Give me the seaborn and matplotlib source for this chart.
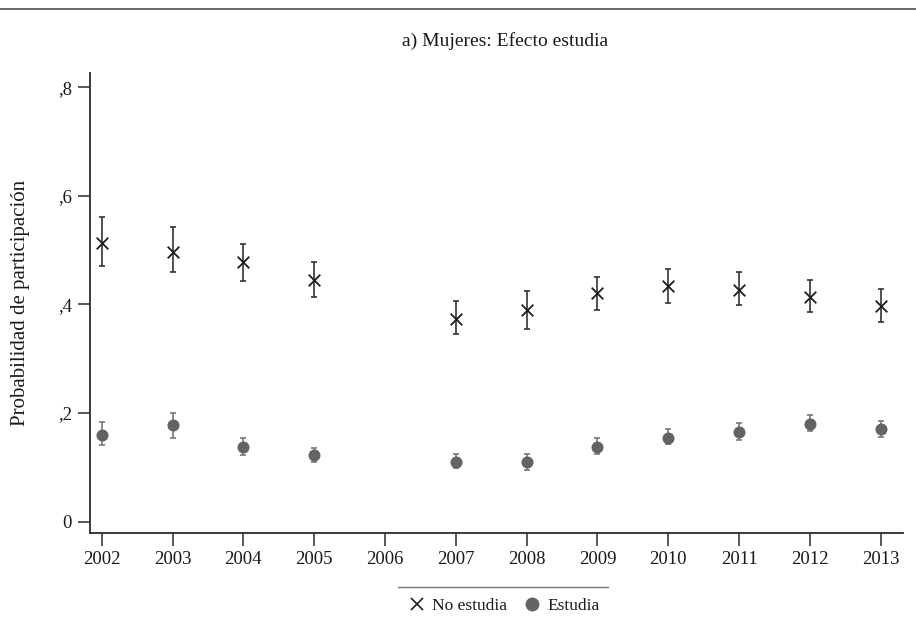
import numpy as np
import pandas as pd
import matplotlib
matplotlib.use("Agg")
import matplotlib.pyplot as plt
from matplotlib.lines import Line2D
import seaborn as sns

# Predicted participation probability by year, with 95% confidence bounds
years = [2002, 2003, 2004, 2005, 2007, 2008, 2009, 2010, 2011, 2012, 2013]

no_estudia = [0.514, 0.496, 0.478, 0.445, 0.373, 0.389, 0.421, 0.434, 0.427, 0.413, 0.398]
no_estudia_lo = [0.471, 0.459, 0.443, 0.414, 0.345, 0.355, 0.389, 0.402, 0.399, 0.387, 0.368]
no_estudia_hi = [0.561, 0.542, 0.512, 0.478, 0.407, 0.424, 0.451, 0.465, 0.459, 0.446, 0.429]

estudia = [0.160, 0.178, 0.138, 0.122, 0.110, 0.110, 0.138, 0.155, 0.165, 0.180, 0.170]
estudia_lo = [0.141, 0.155, 0.123, 0.109, 0.098, 0.095, 0.124, 0.143, 0.150, 0.167, 0.156]
estudia_hi = [0.183, 0.201, 0.154, 0.136, 0.125, 0.125, 0.155, 0.170, 0.181, 0.196, 0.186]

tick_years = list(range(2002, 2014))
y_ticks = [0, 0.2, 0.4, 0.6, 0.8]
y_ticklabels = ["0", ",2", ",4", ",6", ",8"]

title = "a) Mujeres: Efecto estudia"
ylabel = "Probabilidad de participación"
series_names = ["No estudia", "Estudia"]

sns.set_theme(style="ticks")
plt.rcParams["font.family"] = ["Liberation Serif", "DejaVu Serif"]

FG = "#2b2b2b"
C_NO = "#1e1e1e"
C_NO_ERR = "#333333"
C_SI = "#636363"
C_SI_ERR = "#777777"

df = pd.DataFrame({
    "year": years * 2,
    "prob": no_estudia + estudia,
    "lo": no_estudia_lo + estudia_lo,
    "hi": no_estudia_hi + estudia_hi,
    "grupo": [series_names[0]] * len(years) + [series_names[1]] * len(years),
})

fig = plt.figure(figsize=(9.16, 6.23), dpi=100)
ax = fig.add_axes([90 / 916, 1 - 532.7 / 623, (903 - 90) / 916, (532.7 - 72.7) / 623])

# confidence intervals
for name, col in zip(series_names, [C_NO_ERR, C_SI_ERR]):
    sub = df[df["grupo"] == name]
    ax.errorbar(sub["year"], sub["prob"],
                yerr=[sub["prob"] - sub["lo"], sub["hi"] - sub["prob"]],
                fmt="none", ecolor=col, elinewidth=1.2, capsize=2.4, capthick=1.2, zorder=2)

sns.scatterplot(data=df[df["grupo"] == series_names[0]], x="year", y="prob",
                marker="x", s=70, color=C_NO, linewidth=1.3, ax=ax, zorder=3, legend=False)
sns.scatterplot(data=df[df["grupo"] == series_names[1]], x="year", y="prob",
                marker="o", s=75, color=C_SI, edgecolor=C_SI, linewidth=0, ax=ax, zorder=3,
                legend=False)

ax.set_xlim(2001.835, 2013.315)
ax.set_ylim(-0.0203, 0.8269)
ax.set_xticks(tick_years)
ax.set_xticklabels([str(y) for y in tick_years])
ax.set_yticks(y_ticks)
ax.set_yticklabels(y_ticklabels)
ax.set_xlabel("")
ax.set_ylabel(ylabel, fontsize=15, color="#1a1a1a", labelpad=20)

for side in ["top", "right"]:
    ax.spines[side].set_visible(False)
for side in ["left", "bottom"]:
    ax.spines[side].set_color(FG)
    ax.spines[side].set_linewidth(1.3)
ax.tick_params(axis="both", colors=FG, labelcolor="#1a1a1a", labelsize=13.5,
               length=9, width=1.1, direction="out")
ax.tick_params(axis="x", pad=4)
ax.tick_params(axis="y", pad=4)
ax.set_facecolor("white")

# heading and top rule
fig.add_artist(Line2D([0, 1], [1 - 9 / 623, 1 - 9 / 623], color="#666666", linewidth=1.4))
fig.text(505 / 916, 1 - 41 / 623, title, ha="center", va="center", fontsize=14, color="#1a1a1a")

# legend with a rule above it
fig.add_artist(Line2D([398 / 916, 608 / 916], [1 - 587 / 623, 1 - 587 / 623],
                      color="#777777", linewidth=1.0))
handles = [
    Line2D([], [], linestyle="none", marker="x", markersize=9, markeredgewidth=1.2, color=C_NO),
    Line2D([], [], linestyle="none", marker="o", markersize=9, color=C_SI),
]
fig.legend(handles, series_names, loc="center", bbox_to_anchor=(503 / 916, 1 - 606 / 623),
           ncol=2, frameon=False, fontsize=12.5, handletextpad=0.3, columnspacing=0.8,
           handlelength=1.2, labelcolor="#1a1a1a")

fig.savefig("out.png", dpi=100, facecolor="white")
